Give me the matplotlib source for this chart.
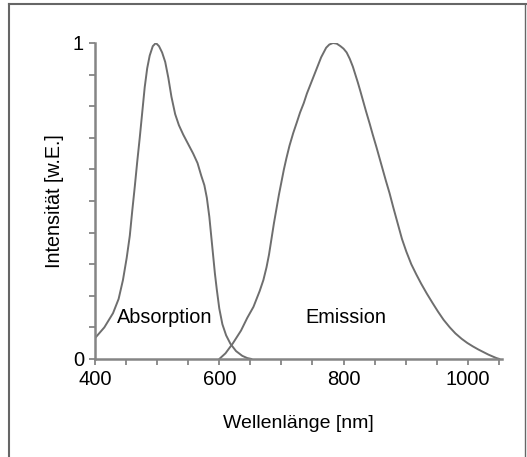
import matplotlib
matplotlib.use("Agg")
import matplotlib.pyplot as plt
from matplotlib.lines import Line2D
from matplotlib.ticker import MultipleLocator, FixedLocator

plt.rcParams['font.family'] = ['Liberation Sans', 'DejaVu Sans']

# spectra (wavelength in nm, intensity in a.u.)
abs_nm = [400, 415, 429, 438, 445, 451, 456, 460, 464, 468, 472, 476, 480, 484,
          488, 493, 498, 503, 508, 513, 518, 523, 529, 535, 542, 550, 558, 565,
          571, 576, 580, 584, 587, 590, 593, 596, 600, 605, 611, 618, 627, 637,
          645, 652]
abs_int = [0.066, 0.10, 0.145, 0.19, 0.25, 0.32, 0.39, 0.47, 0.545, 0.625, 0.70,
           0.78, 0.86, 0.92, 0.96, 0.99, 1.0, 0.99, 0.97, 0.94, 0.89, 0.83, 0.775,
           0.74, 0.71, 0.68, 0.65, 0.62, 0.58, 0.55, 0.51, 0.45, 0.39, 0.33, 0.27,
           0.22, 0.16, 0.11, 0.075, 0.048, 0.025, 0.01, 0.003, 0.0]

em_nm = [600, 610, 622, 635, 645, 655, 665, 671, 676, 680, 684, 688, 692, 696,
         700, 704, 708, 713, 719, 725, 730, 736, 741, 746, 751, 756, 760, 764,
         768, 772, 777, 783, 789, 795, 800, 805, 810, 815, 819, 823, 827, 831,
         836, 842, 847, 853, 858, 863, 868, 874, 880, 887, 894, 901, 909, 917,
         925, 934, 943, 952, 961, 971, 980, 990, 999, 1008, 1017, 1025, 1033,
         1040, 1046, 1051]
em_int = [0.0, 0.018, 0.05, 0.09, 0.13, 0.165, 0.215, 0.25, 0.29, 0.33, 0.38,
          0.43, 0.475, 0.52, 0.56, 0.60, 0.635, 0.675, 0.715, 0.75, 0.78, 0.81,
          0.84, 0.865, 0.89, 0.915, 0.935, 0.955, 0.97, 0.985, 0.995, 1.0, 0.998,
          0.99, 0.982, 0.97, 0.95, 0.925, 0.9, 0.875, 0.848, 0.82, 0.785, 0.745,
          0.71, 0.67, 0.635, 0.60, 0.565, 0.525, 0.48, 0.43, 0.38, 0.34, 0.30,
          0.268, 0.238, 0.207, 0.178, 0.15, 0.124, 0.10, 0.081, 0.064, 0.051,
          0.04, 0.03, 0.022, 0.014, 0.008, 0.003, 0.0]

x_ticks = [400, 600, 800, 1000]
y_ticks = [0, 1]

W, H = 527, 457
fig = plt.figure(figsize=(W / 100, H / 100), dpi=100)
ax = fig.add_axes([95 / W, 1 - 359 / H, 407 / W, 316 / H])

line_col = '#6e6e6e'
axis_col = '#858585'

ax.plot(abs_nm, abs_int, color=line_col, lw=1.4, solid_capstyle='round')
ax.plot(em_nm, em_int, color=line_col, lw=1.4, solid_capstyle='round')

ax.set_xlim(400, 1055)
ax.set_ylim(0, 1)

for s in ['top', 'right']:
    ax.spines[s].set_visible(False)
for s in ['left', 'bottom']:
    ax.spines[s].set_color(axis_col)
    ax.spines[s].set_linewidth(1.8)

ax.xaxis.set_major_locator(FixedLocator(x_ticks))
ax.xaxis.set_minor_locator(MultipleLocator(50))
ax.yaxis.set_major_locator(FixedLocator(y_ticks))
ax.yaxis.set_minor_locator(MultipleLocator(0.1))
ax.set_xticklabels([str(v) for v in x_ticks])
ax.set_yticklabels([str(v) for v in y_ticks])

ax.tick_params(which='both', direction='out', color=axis_col, width=1.3,
               length=4, labelsize=14.5, labelcolor='black')
ax.tick_params(axis='x', pad=4)
ax.tick_params(axis='y', pad=4)

ax.set_xlabel('Wellenlänge [nm]', fontsize=14, labelpad=19)
ax.set_ylabel('Intensität [w.E.]', fontsize=14.2, labelpad=6)

ax.text(512, 0.114, 'Absorption', fontsize=14.3, ha='center', va='baseline')
ax.text(804, 0.114, 'Emission', fontsize=14.3, ha='center', va='baseline')

# picture frame (left, top, right)
frame_col = '#666666'
x0, x1 = 8.5 / W, 524.5 / W
y1 = 1 - 3.5 / H
fig.add_artist(Line2D([x0, x0], [0, y1], transform=fig.transFigure, color=frame_col, lw=1.5))
fig.add_artist(Line2D([x0, 1], [y1, y1], transform=fig.transFigure, color=frame_col, lw=1.5))
fig.add_artist(Line2D([x1, x1], [0, y1], transform=fig.transFigure, color=frame_col, lw=1.0))

fig.savefig('out.png', dpi=100)
